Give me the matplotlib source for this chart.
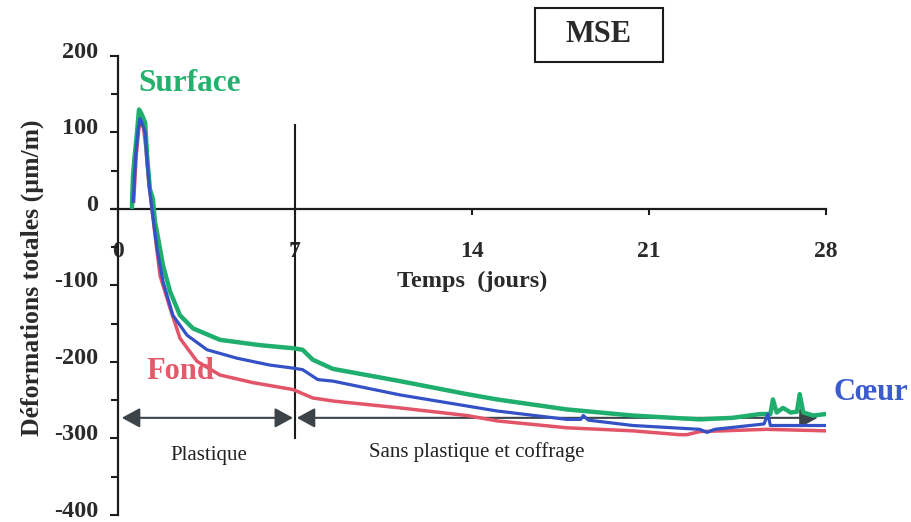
import matplotlib
matplotlib.use("Agg")
import matplotlib.pyplot as plt
from matplotlib.patches import Rectangle
from matplotlib.transforms import ScaledTranslation

# jours / déformations (µm/m)
surface_t = [0.55, 0.59, 0.66, 0.75, 0.83, 0.92, 1.07, 1.15, 1.26, 1.38, 1.46, 1.54, 1.78,
             2.06, 2.45, 2.96, 4.03, 5.61, 6.92, 7.3, 7.7, 8.5, 11.15, 13.8, 15.0, 17.75,
             20.36, 23.0, 24.3, 25.4, 25.8, 25.9, 26.05, 26.3, 26.6, 26.85, 26.96, 27.1,
             27.5, 28.0]
surface_v = [3, 43, 70, 100, 130, 125, 113, 69, 26, 13, -17, -30, -74,
             -108, -139, -156, -171, -178, -182, -184, -197, -209, -225, -242, -249, -262,
             -270, -275, -273, -268, -268, -249, -266, -260, -266, -265, -242, -266,
             -270, -268]

coeur_t = [0.6, 0.7, 0.8, 0.87, 0.95, 1.07, 1.15, 1.25, 1.34, 1.54, 1.78, 2.17, 2.73,
           3.52, 4.7, 6.0, 6.92, 7.3, 7.9, 8.5, 11.15, 14.98, 17.75, 18.3, 18.4, 18.6,
           20.36, 23.0, 23.3, 23.6, 25.55, 25.7, 25.8, 28.0]
coeur_v = [10, 70, 105, 118, 112, 100, 62, 25, 0, -52, -95, -139, -165,
           -184, -195, -204, -208, -210, -223, -225, -243, -264, -275, -275, -270, -276,
           -283, -288, -292, -288, -281, -268, -283, -283]

fond_t = [0.62, 0.72, 0.82, 0.9, 1.0, 1.1, 1.2, 1.34, 1.66, 2.06, 2.45, 3.12, 4.03, 5.34,
          6.92, 7.7, 8.5, 11.15, 13.8, 15.0, 17.75, 20.36, 22.2, 22.5, 23.0, 25.65, 28.0]
fond_v = [10, 70, 105, 112, 108, 80, 40, 0, -87, -130, -169, -199, -217, -227,
          -236, -247, -251, -260, -270, -277, -286, -290, -295, -295, -291, -288, -290]

x_ticks = [0, 7, 14, 21, 28]
y_ticks = [-400, -300, -200, -100, 0, 100, 200]

serif = "Liberation Serif"
c_surface = "#1fae6e"
c_coeur = "#3451c6"
c_fond = "#e25468"
c_axis = "#1c1c1c"
c_arrow = "#3c4449"
c_text = "#2a2a2a"

fig = plt.figure(figsize=(9.12, 5.22), dpi=100)
ax = fig.add_axes([0.1225, 7 / 522, 0.7832, 459 / 522])
ax.set_xlim(-0.25, 28)
ax.set_ylim(-400, 200)

# courbes : fond dessous, surface, puis coeur par-dessus
ax.plot(fond_t, fond_v, color=c_fond, lw=2.5, zorder=3, solid_joinstyle="round")
ax.plot(surface_t, surface_v, color=c_surface, lw=3.2, zorder=4, solid_joinstyle="round")
ax.plot(coeur_t, coeur_v, color=c_coeur, lw=2.3, zorder=5, solid_joinstyle="round")

# axes croisés en (0, 0)
for side in ["top", "right"]:
    ax.spines[side].set_visible(False)
ax.spines["left"].set_position(("data", 0))
ax.spines["bottom"].set_position(("data", 0))
ax.spines["left"].set_bounds(-400, 200)
for side in ["left", "bottom"]:
    ax.spines[side].set_color(c_axis)
    ax.spines[side].set_linewidth(1.6)

ax.set_yticks(y_ticks)
ax.set_yticklabels([str(v) for v in y_ticks], fontfamily=serif, fontweight="bold", fontsize=17.5)
ax.set_yticks([-350, -250, -150, -50, 50, 150], minor=True)
ax.tick_params(axis="y", which="major", direction="out", length=6, width=1.5,
               color=c_axis, pad=8, labelcolor=c_text)
ax.tick_params(axis="y", which="minor", direction="out", length=5, width=1.5, color=c_axis)
lift = ScaledTranslation(0, 0.06, fig.dpi_scale_trans)
for lab in ax.get_yticklabels():
    lab.set_transform(lab.get_transform() + lift)

ax.set_xticks(x_ticks)
ax.set_xticklabels([str(v) for v in x_ticks], fontfamily=serif, fontweight="bold", fontsize=17)
ax.tick_params(axis="x", direction="out", length=4, width=1.5, color=c_axis, pad=19,
               labelcolor=c_text)

# séparation plastique / sans plastique
ax.plot([7, 7], [-299, 110], color=c_axis, lw=1.5, zorder=2)

arrow_y = -273
for x0, x1 in [(0.15, 6.92), (7.07, 27.67)]:
    ax.annotate("", xy=(x0, arrow_y), xytext=(x1, arrow_y),
                arrowprops=dict(arrowstyle="<|-|>,head_length=0.55,head_width=0.3",
                                mutation_scale=20, color=c_arrow, lw=1.5,
                                shrinkA=0, shrinkB=0), zorder=2)

ax.text(3.6, -322, "Plastique", fontfamily=serif, fontsize=15, ha="center", va="center",
        color="#222222")
ax.text(14.2, -318, "Sans plastique et coffrage", fontfamily=serif, fontsize=15,
        ha="center", va="center", color="#222222")

ax.text(14.0, -95, "Temps  (jours)", fontfamily=serif, fontweight="bold", fontsize=17.5,
        ha="center", va="center", color=c_text)

# noms des courbes
ax.text(2.85, 164, "Surface", fontfamily=serif, fontweight="bold", fontsize=22.5,
        ha="center", va="center", color="#23b26d", clip_on=False)
ax.text(2.45, -212, "Fond", fontfamily=serif, fontweight="bold", fontsize=22,
        ha="center", va="center", color="#e35a6b", zorder=6)
ax.text(29.76, -240, "Cœur", fontfamily=serif, fontweight="bold", fontsize=22,
        ha="center", va="center", color="#3b5ccc", clip_on=False)

fig.text(32 / 912, 1 - 278 / 522, "Déformations totales (µm/m)", rotation=90,
         fontfamily=serif, fontweight="bold", fontsize=18.5, ha="center", va="center",
         color=c_text)

# cartouche MSE
fig.patches.append(Rectangle((535 / 912, 1 - 62 / 522), 128 / 912, 54 / 522,
                             transform=fig.transFigure, fill=False,
                             edgecolor=c_axis, lw=1.5))
fig.text(599 / 912, 1 - 35 / 522, "MSE", fontfamily=serif, fontweight="bold",
         fontsize=22, ha="center", va="center", color=c_text)

fig.savefig("out.png", dpi=100)
